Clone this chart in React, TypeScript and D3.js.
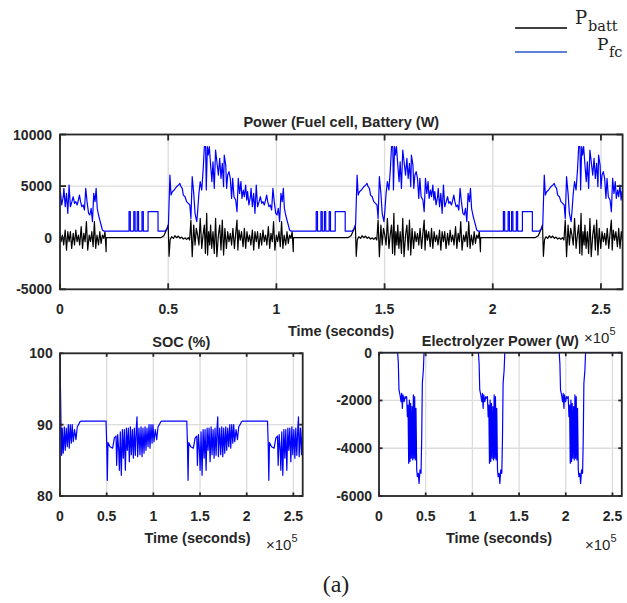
import React from "react";
import * as d3 from "d3";

type Pt = [number, number];

// time axis (x 1e5 s)
const timeTicks = [0, 0.5, 1, 1.5, 2, 2.5];
const timeDomain: Pt = [0, 2.6];
// the simulated drive cycle repeats; start times of each cycle
const cycleStarts = [-0.365, 0.5, 1.365, 2.23];

const powerTicks = [-5000, 0, 5000, 10000];
const socTicks = [80, 90, 100];
const elecTicks = [-6000, -4000, -2000, 0];

// fuel-cell power over one cycle: [time offset (1e5 s), W]
const fcCycle: Pt[] = [
  [-0.015, 646], [-0.007, 840], [0.001, 1230], [0.008, 6070], [0.013, 4130], [0.019, 4460], [0.028, 4620],
  [0.039, 4940], [0.047, 5100], [0.054, 5260], [0.059, 4940], [0.065, 4780], [0.07, 4130], [0.078, 3970],
  [0.085, 3490], [0.093, 3330], [0.1, 3170], [0.105, 1870], [0.111, 5910], [0.118, 4300], [0.124, 2360],
  [0.132, 1550], [0.136, 2520], [0.142, 4300], [0.148, 5430], [0.155, 4620], [0.162, 6720], [0.167, 8820],
  [0.173, 8820], [0.176, 4620], [0.181, 8820], [0.185, 8010], [0.19, 8820], [0.196, 7040], [0.202, 5430],
  [0.207, 7360], [0.213, 4780], [0.219, 8490], [0.225, 7360], [0.232, 6070], [0.238, 7690], [0.244, 5750],
  [0.25, 7200], [0.256, 4940], [0.259, 8010], [0.266, 7040], [0.27, 4780], [0.275, 6070], [0.281, 6400],
  [0.287, 5750], [0.293, 3810], [0.298, 5750], [0.304, 3970], [0.312, 3650], [0.318, 2520], [0.324, 5750],
  [0.33, 4300], [0.336, 5430], [0.341, 3810], [0.347, 4620], [0.352, 3970], [0.358, 5100], [0.363, 3650],
  [0.367, 4460], [0.373, 3170], [0.38, 3970], [0.383, 4780], [0.389, 3000], [0.395, 4300], [0.401, 2360],
  [0.407, 5100], [0.413, 3000], [0.42, 3490], [0.426, 3970], [0.432, 3330], [0.438, 3490], [0.444, 3170],
  [0.45, 3650], [0.455, 4130], [0.46, 3490], [0.466, 3000], [0.472, 3170], [0.478, 2680], [0.484, 4780],
  [0.49, 3490], [0.497, 2360], [0.503, 2200], [0.509, 2840], [0.515, 1550], [0.521, 4300], [0.527, 3490],
  [0.532, 4780], [0.537, 2840], [0.543, 2200], [0.549, 1710], [0.555, 1230], [0.561, 740], [0.567, 646],
  [0.684, 646], [0.684, 2520], [0.69, 2520], [0.69, 646], [0.706, 646], [0.706, 2520], [0.712, 2520],
  [0.712, 646], [0.722, 646], [0.722, 2520], [0.728, 2520], [0.728, 646], [0.744, 646], [0.744, 2520],
  [0.75, 2520], [0.75, 646], [0.772, 646], [0.772, 2520], [0.818, 2520], [0.818, 646], [0.85, 646],
];

// battery power over one cycle
const battCycle: Pt[] = [
  [-0.035, 0], [-0.02, 200], [-0.005, 900], [0.0, 1230], [0.004, -1800], [0.009, -200], [0.016, 100],
  [0.024, -65], [0.031, 190], [0.039, 0], [0.047, 160], [0.055, -65], [0.062, 65], [0.07, -130], [0.078, -30],
  [0.085, -160], [0.093, 0], [0.099, -230], [0.105, 1710], [0.111, -1840], [0.118, 1230], [0.124, -710],
  [0.13, 900], [0.136, 260], [0.142, -710], [0.148, 1870], [0.155, -1030], [0.161, 260], [0.167, 1230],
  [0.172, -1520], [0.178, 2360], [0.182, -1680], [0.187, 580], [0.192, -710], [0.196, 1230], [0.201, -1030],
  [0.207, 580], [0.213, -1520], [0.219, 1870], [0.225, -1840], [0.232, 260], [0.238, 1230], [0.244, -1200],
  [0.25, 1710], [0.256, -1680], [0.262, 900], [0.269, -1030], [0.275, 580], [0.281, -390], [0.287, 420],
  [0.293, -710], [0.299, 900], [0.306, -1030], [0.312, 420], [0.318, 1710], [0.322, -1200], [0.327, 740],
  [0.333, -230], [0.339, 580], [0.346, -870], [0.352, 900], [0.358, -1030], [0.364, 580], [0.37, -390],
  [0.376, 260], [0.382, -710], [0.389, 740], [0.395, -1200], [0.401, 580], [0.407, -390], [0.413, 580],
  [0.419, -1030], [0.426, 420], [0.432, -710], [0.438, 740], [0.444, -390], [0.45, 260], [0.456, -710],
  [0.463, 1070], [0.469, -1030], [0.475, 420], [0.481, -390], [0.487, 1550], [0.493, -1200], [0.5, 260],
  [0.506, -390], [0.512, 580], [0.518, -870], [0.524, 1550], [0.53, -1030], [0.536, 260], [0.543, -710],
  [0.549, 580], [0.555, -550], [0.561, 260], [0.567, -65], [0.573, 580], [0.578, -1350], [0.579, 0], [0.83, 0],
];

// state of charge: initial discharge from 100 %, then the repeating cycle
const socStart: Pt[] = [[0, 100], [0.004, 96], [0.012, 89], [0.018, 85.7]];
const socCycle: Pt[] = [
  [0.0, 87.6], [0.007, 82.2], [0.014, 87.5], [0.036, 86.9], [0.064, 86.7], [0.082, 88.1], [0.1, 88.4],
  [0.107, 84.3], [0.118, 88.6], [0.129, 86.4], [0.136, 83.6], [0.146, 89.0], [0.157, 82.9], [0.168, 89.3],
  [0.179, 85.3], [0.189, 89.3], [0.2, 83.6], [0.211, 89.5], [0.221, 86.4], [0.232, 89.5], [0.243, 84.8],
  [0.254, 89.7], [0.264, 85.8], [0.275, 89.3], [0.286, 85.3], [0.296, 89.5], [0.307, 85.7], [0.318, 89.7],
  [0.325, 91.1], [0.332, 85.5], [0.346, 89.5], [0.357, 85.8], [0.368, 89.7], [0.379, 85.5], [0.389, 89.5],
  [0.4, 86.0], [0.411, 89.7], [0.421, 86.4], [0.432, 89.5], [0.443, 86.9], [0.454, 90.0], [0.464, 86.7],
  [0.475, 90.0], [0.486, 87.4], [0.496, 90.0], [0.507, 87.6], [0.521, 89.3], [0.536, 87.9], [0.55, 89.7],
  [0.564, 90.0], [0.579, 90.4], [0.593, 90.5], [0.858, 90.5],
];

// electrolyzer power over one cycle (zero outside the dip)
const elecCycle: Pt[] = [
  [0.565, 0], [0.572, -450], [0.579, -1560], [0.59, -1770], [0.601, -2050], [0.608, -1700], [0.615, -2330],
  [0.622, -1770], [0.633, -2050], [0.644, -1840], [0.654, -1910], [0.661, -1840], [0.669, -2680],
  [0.676, -2190], [0.683, -4630], [0.69, -1980], [0.697, -4560], [0.704, -2120], [0.711, -4420],
  [0.719, -2260], [0.726, -4490], [0.733, -1770], [0.74, -4420], [0.747, -1840], [0.754, -4490],
  [0.761, -2330], [0.769, -4910], [0.776, -5190], [0.786, -5050], [0.794, -5470], [0.804, -4910],
  [0.815, -5050], [0.822, -3650], [0.829, -1280], [0.84, -725], [0.847, 0],
];

function tile(cycle: Pt[]): Pt[] {
  const out: Pt[] = [];
  for (const c of cycleStarts) for (const [t, v] of cycle) out.push([c + t, v]);
  return out.filter(([t]) => t >= -0.1 && t <= 2.7);
}

const fcSeries = tile(fcCycle);
const battSeries = tile(battCycle);
const socSeries = [...socStart, ...tile(socCycle).filter(([t]) => t > 0.02)];
const elecSeries: Pt[] = [[0, 0], ...tile(elecCycle), [2.6, 0]];

const FONT = "'Liberation Sans', Arial, Helvetica, sans-serif";
const TXT = "#262626";
const SERIF = "'DejaVu Serif', 'Liberation Serif', serif";

interface PanelProps {
  id: string;
  l: number; r: number; t: number; b: number;
  yDomain: Pt;
  yTicks: number[];
  series: { data: Pt[]; color: string }[];
  tickLen: number;
  yLabelX: number;
  xLabelY: number;
  title: string;
  titleY: number;
  xLabel: string;
  xLabelX: number;
  xLabelBase: number;
}

function Panel(p: PanelProps) {
  const x = d3.scaleLinear().domain(timeDomain).range([p.l, p.r]);
  const y = d3.scaleLinear().domain(p.yDomain).range([p.b, p.t]);
  const line = d3.line<Pt>().x((d) => x(d[0])).y((d) => y(d[1]));
  const cx = (p.l + p.r) / 2;
  return (
    <g>
      <defs>
        <clipPath id={p.id}>
          <rect x={p.l} y={p.t - 1.5} width={p.r - p.l} height={p.b - p.t + 3} />
        </clipPath>
      </defs>
      {timeTicks.filter((v) => v > 0).map((v) => (
        <line key={"gx" + v} x1={x(v)} x2={x(v)} y1={p.t} y2={p.b} stroke="#dcdcdc" strokeWidth={1.3} />
      ))}
      {p.yTicks.filter((v) => v > p.yDomain[0] && v < p.yDomain[1]).map((v) => (
        <line key={"gy" + v} x1={p.l} x2={p.r} y1={y(v)} y2={y(v)} stroke="#dcdcdc" strokeWidth={1.3} />
      ))}
      <g clipPath={`url(#${p.id})`}>
        {p.series.map((s, i) => (
          <path key={i} d={line(s.data) || ""} fill="none" stroke={s.color} strokeWidth={1.2} strokeLinejoin="round" />
        ))}
      </g>
      {timeTicks.map((v) => (
        <g key={"tx" + v}>
          <line x1={x(v)} x2={x(v)} y1={p.b} y2={p.b - p.tickLen} stroke={TXT} strokeWidth={1.8} />
          <line x1={x(v)} x2={x(v)} y1={p.t} y2={p.t + p.tickLen} stroke={TXT} strokeWidth={1.8} />
          <text x={x(v)} y={p.xLabelY} textAnchor="middle" fontFamily={FONT} fontWeight="bold" fontSize={14} fill={TXT}>
            {String(v)}
          </text>
        </g>
      ))}
      {p.yTicks.map((v) => (
        <g key={"ty" + v}>
          <line x1={p.l} x2={p.l + p.tickLen} y1={y(v)} y2={y(v)} stroke={TXT} strokeWidth={1.8} />
          <line x1={p.r} x2={p.r - p.tickLen} y1={y(v)} y2={y(v)} stroke={TXT} strokeWidth={1.8} />
          <text x={p.yLabelX} y={y(v) + 5} textAnchor="end" fontFamily={FONT} fontWeight="bold" fontSize={14} fill={TXT}>
            {String(v)}
          </text>
        </g>
      ))}
      <rect x={p.l} y={p.t} width={p.r - p.l} height={p.b - p.t} fill="none" stroke={TXT} strokeWidth={1.8} />
      <text x={cx} y={p.titleY} textAnchor="middle" fontFamily={FONT} fontWeight="bold" fontSize={14.5} fill={TXT}>
        {p.title}
      </text>
      <text x={p.xLabelX} y={p.xLabelBase} textAnchor="middle" fontFamily={FONT} fontWeight="bold" fontSize={14.5} fill={TXT}>
        {p.xLabel}
      </text>
    </g>
  );
}

function Exponent({ x, y }: { x: number; y: number }) {
  return (
    <text x={x} y={y} fontFamily={FONT} fontSize={15} fill={TXT}>
      ×10
      <tspan dy={-8} fontSize={11}>5</tspan>
    </text>
  );
}

export default function App() {
  return (
    <svg width={627} height={603} style={{ position: "absolute", left: 0, top: 0, background: "#fff" }}>
      <rect width={627} height={603} fill="#fff" />
      {/* legend */}
      <line x1={515} x2={567} y1={28} y2={28} stroke="#000" strokeWidth={1.5} />
      <line x1={515} x2={567} y1={52} y2={52} stroke="#2a56c6" strokeWidth={1.5} />
      <text x={575} y={23.5} fontFamily={SERIF} fontSize={18} fill="#222">P</text>
      <text x={588} y={30.5} fontFamily={SERIF} fontSize={14.5} fill="#222">batt</text>
      <text x={597} y={50} fontFamily={SERIF} fontSize={17} fill="#222">P</text>
      <text x={609} y={56.5} fontFamily={SERIF} fontSize={14.5} fill="#222">fc</text>

      <Panel
        id="clipPower" l={60} r={622.6} t={134.5} b={289.3}
        yDomain={[-5000, 10000]} yTicks={powerTicks}
        series={[{ data: battSeries, color: "#000" }, { data: fcSeries, color: "#0000ff" }]}
        tickLen={6} yLabelX={52} xLabelY={314}
        title="Power (Fuel cell, Battery (W)" titleY={127}
        xLabel="Time (seconds)" xLabelX={341} xLabelBase={336}
      />
      <Exponent x={584} y={343} />

      <Panel
        id="clipSoc" l={60} r={302.7} t={353.3} b={496}
        yDomain={[80, 100]} yTicks={socTicks}
        series={[{ data: socSeries, color: "#0000ff" }]}
        tickLen={3.5} yLabelX={52.7} xLabelY={520.5}
        title="SOC (%)" titleY={346.7}
        xLabel="Time (seconds)" xLabelX={197.5} xLabelBase={543}
      />
      <Exponent x={266} y={550} />

      <Panel
        id="clipElec" l={379} r={621.8} t={352.7} b={496}
        yDomain={[-6000, 0]} yTicks={elecTicks}
        series={[{ data: elecSeries, color: "#0000ff" }]}
        tickLen={3.5} yLabelX={372} xLabelY={520.5}
        title="Electrolyzer Power (W)" titleY={346}
        xLabel="Time (seconds)" xLabelX={499} xLabelBase={543}
      />
      <Exponent x={585} y={550} />

      <text x={336} y={592} textAnchor="middle" fontFamily="'Liberation Serif', 'Times New Roman', serif" fontSize={24} fill="#222">
        (a)
      </text>
    </svg>
  );
}
